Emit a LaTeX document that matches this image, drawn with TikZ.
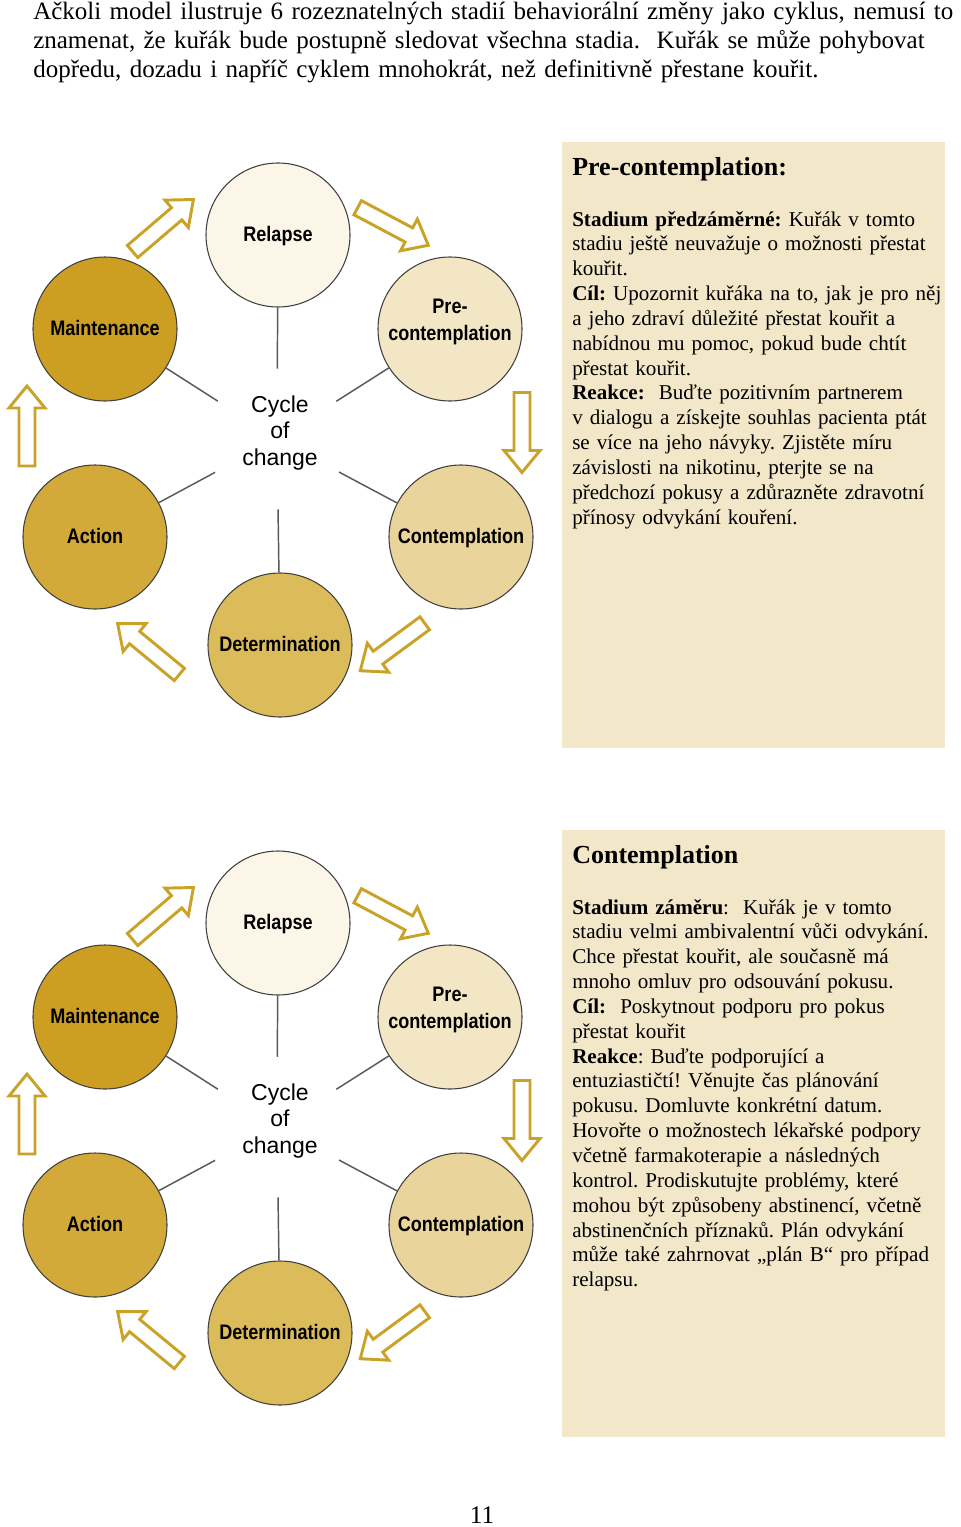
\documentclass[tikz,border=0pt]{standalone}
\usepackage{fontspec}
\setmainfont{Liberation Serif}
\newfontfamily\stagefont{Liberation Sans}[FakeStretch=0.86]
\newfontfamily\hubfont{Liberation Sans}
\frenchspacing

\begin{document}
\begin{tikzpicture}[x=0.75pt, y=-0.75pt,
    stage/.style={circle, draw=black!75, line width=0.8pt, minimum size=108pt,
        inner sep=0pt, align=center, text height=12pt, text depth=3pt,
        font=\stagefont\bfseries\fontsize{15.75pt}{20.25pt}\selectfont},
    hub/.style={circle, minimum size=105pt, inner sep=0pt},
    spoke/.style={draw=black!65, line width=1.1pt},
    cyclearrow/.style={draw=arrowColor, fill=white, line width=2.2pt, line join=miter},
    boxtitle/.style={anchor=base west, inner sep=0pt,
        font=\bfseries\fontsize{19.5pt}{23pt}\selectfont},
    boxbody/.style={anchor=base west, inner sep=0pt, text width=290pt, align=left,
        font=\fontsize{15.8pt}{18.64pt}\selectfont}]

% ---------------------------------------------------------------------------
% Color aliases
% ---------------------------------------------------------------------------
\definecolor{relapseColor}{HTML}{FBF6E7}
\definecolor{preColor}{HTML}{F3E6C5}
\definecolor{contColor}{HTML}{E9D49B}
\definecolor{detColor}{HTML}{DCBB5A}
\definecolor{actColor}{HTML}{D3AA3A}
\definecolor{maintColor}{HTML}{CC9E22}
\definecolor{arrowColor}{HTML}{C9A227}
\definecolor{boxColor}{HTML}{F3E7C9}

\useasboundingbox (0,0) rectangle (960,1527);

% ---------------------------------------------------------------------------
% Intro paragraph
% ---------------------------------------------------------------------------
\node[anchor=base west, inner sep=0pt, text width=710pt, align=left,
      font=\fontsize{18.75pt}{21.75pt}\selectfont] (intro) at (33,20)
    {Ačkoli model ilustruje 6 rozeznatelných stadií behaviorální změny jako cyklus, nemusí to\\
     znamenat, že kuřák bude postupně sledovat všechna stadia.~ Kuřák se může pohybovat\\
     dopředu, dozadu i napříč cyklem mnohokrát, než definitivně přestane kouřit.};

% ---------------------------------------------------------------------------
% Text boxes (right column)
% ---------------------------------------------------------------------------
\fill[boxColor] (562,142) rectangle (945,748);
\fill[boxColor] (562,830) rectangle (945,1437);

\node[boxtitle] (title1) at (572,175) {Pre-contemplation:};
\node[boxbody] (body1) at (572,226)
    {\textbf{Stadium předzáměrné:} Kuřák v tomto\\
     stadiu ještě neuvažuje o možnosti přestat\\
     kouřit.\\
     \textbf{Cíl:} Upozornit kuřáka na to, jak je pro něj\\
     a jeho zdraví důležité přestat kouřit a\\
     nabídnou mu pomoc, pokud bude chtít\\
     přestat kouřit.\\
     \textbf{Reakce:}~ Buďte pozitivním partnerem\\
     v dialogu a získejte souhlas pacienta ptát\\
     se více na jeho návyky. Zjistěte míru\\
     závislosti na nikotinu, pterjte se na\\
     předchozí pokusy a zdůrazněte zdravotní\\
     přínosy odvykání kouření.};

\node[boxtitle] (title2) at (572,863) {Contemplation};
\node[boxbody] (body2) at (572,914)
    {\textbf{Stadium záměru}:~ Kuřák je v tomto\\
     stadiu velmi ambivalentní vůči odvykání.\\
     Chce přestat kouřit, ale současně má\\
     mnoho omluv pro odsouvání pokusu.\\
     \textbf{Cíl:}~ Poskytnout podporu pro pokus\\
     přestat kouřit\\
     \textbf{Reakce}: Buďte podporující a\\
     entuziastičtí! Věnujte čas plánování\\
     pokusu. Domluvte konkrétní datum.\\
     Hovořte o možnostech lékařské podpory\\
     včetně farmakoterapie a následných\\
     kontrol. Prodiskutujte problémy, které\\
     mohou být způsobeny abstinencí, včetně\\
     abstinenčních příznaků. Plán odvykání\\
     může také zahrnovat „plán B“ pro případ\\
     relapsu.};

% ===========================================================================
%  CYCLE OF CHANGE  -- drawn twice, second copy shifted down
% ===========================================================================
\foreach \k/\dy in {1/0, 2/688} {
  \begin{scope}[shift={(0,\dy)}]
    % stage circles
    \node[stage, fill=relapseColor] (relapse\k) at (278,235) {Relapse};
    \node[stage, fill=preColor, text width=93pt, text depth=36pt] (pre\k) at (450,329)
        {Pre-\\contemplation};
    \node[stage, fill=contColor] (cont\k) at (461,537) {Contemplation};
    \node[stage, fill=detColor] (det\k) at (280,645) {Determination};
    \node[stage, fill=actColor] (act\k) at (95,537) {Action};
    \node[stage, fill=maintColor] (maint\k) at (105,329) {Maintenance};

    % centre
    \node[hub] (hub\k) at (277,439) {};
    \node[align=center, inner sep=0pt,
          font=\hubfont\fontsize{17.25pt}{19.9pt}\selectfont] (cyclelbl\k) at (280,433)
        {Cycle\\of\\change};

    % spokes
    \foreach \s in {relapse, pre, cont, det, act, maint}
        \draw[spoke] (\s\k) -- (hub\k);

    % hollow arrows round the cycle: centre x / centre y / direction
    \foreach \cx/\cy/\ang in {163/225.5/40.5, 393/226.5/-28, 522/432.5/-90,
                              392.5/647/-143.6, 148.5/649/140.5, 27/426/90}
        \draw[cyclearrow, shift={(\cx,\cy)}, rotate=\ang]
            (-40,-8) -- (18,-8) -- (18,-18) -- (40,0) -- (18,18) -- (18,8)
            -- (-40,8) -- cycle;
  \end{scope}
}

% ---------------------------------------------------------------------------
% Page number
% ---------------------------------------------------------------------------
\node[anchor=base, inner sep=0pt, font=\fontsize{19pt}{22pt}\selectfont] (pagenum)
    at (482,1523) {11};

\end{tikzpicture}
\end{document}
